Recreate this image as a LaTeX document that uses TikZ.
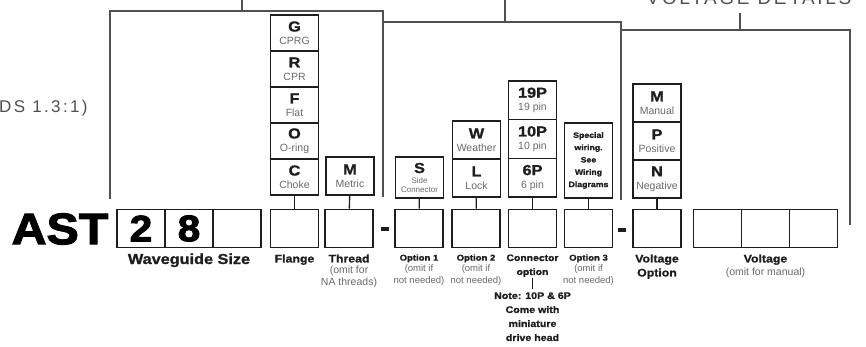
\documentclass[tikz,border=0pt]{standalone}
\usepackage{fontspec}
\setmainfont{Liberation Sans}
\newfontfamily\heavy[FakeStretch=1.12,FakeBold=1.3]{Liberation Sans}
\newfontfamily\blackface[FakeStretch=1.1,FakeBold=2.5]{Liberation Sans}
\newfontfamily\spaced[LetterSpace=14]{Liberation Sans}
\usetikzlibrary{positioning}
\definecolor{ink}{RGB}{30,30,30}
\definecolor{frame}{RGB}{80,80,80}
\definecolor{fog}{RGB}{105,105,105}
\newcommand{\optcell}[2]{{\color{ink}\heavy\bfseries\fontsize{14.5}{13}\selectfont #1}\\#2}
\tikzset{
  slot/.style={draw=ink,line width=1.6pt,minimum width=48pt,minimum height=38pt,inner sep=0pt,
    font=\blackface\bfseries\fontsize{37}{37}\selectfont},
  cell/.style={draw=ink,line width=1.4pt,minimum width=48pt,minimum height=#1,inner sep=0pt,
    align=center,text=fog,font=\fontsize{10.5}{13}\selectfont},
  cell/.default=38pt,
  link/.style={draw=ink,line width=1.4pt},
  bracket/.style={draw=frame,line width=2pt},
  slotname/.style={font=\heavy\bfseries\fontsize{#1}{14}\selectfont,text=ink,align=center,inner sep=0pt},
  slotname/.default=11,
  slotnote/.style={font=\fontsize{#1}{11.5}\selectfont,text=fog,align=center,inner sep=0pt},
  slotnote/.default=9.5,
  hyphen/.style={fill=ink,minimum width=8pt,minimum height=4pt,inner sep=0pt},
}

\begin{document}
\begin{tikzpicture}[x=1pt,y=-1pt]
  \useasboundingbox (0,0) rectangle (866,347);
  % group brackets
  \draw[bracket] (110,199) |- (383,11) -- (383,197);
  \draw[bracket] (242,11) -- (242,-4);
  \draw[bracket] (383,22) -| (621,200);
  \draw[bracket] (505,22) -- (505,-4);
  \draw[bracket] (621,30) -| (850,225);
  \draw[bracket] (740,30) -- (740,13);
  \node[font=\spaced\fontsize{19}{19}\selectfont,text=frame,anchor=base,inner sep=0pt] (volthead) at (749,5) {VOLTAGE DETAILS};
  \node[font=\spaced\fontsize{17}{17}\selectfont,text=frame,anchor=base west,inner sep=0pt] (ratio) at (-1,113) {DS 1.3:1)};

  % part number slots
  \node[font=\blackface\bfseries\fontsize{44}{44}\selectfont,inner sep=0pt] (ast) at (60,229) {AST};
  \foreach \n/\x/\t in {w1/141/2,w2/189/8,w3/237/,fl/294.5/,th/349/,o1/419/,o2/476/,cn/532.5/,
      o3/588.5/,vo/657/,v1/717.5/,v2/765.5/,v3/813.5/}
    \node[slot] (\n) at (\x,228.5) {\t};
  \node[hyphen] (dash1) at (385,228.5) {};
  \node[hyphen] (dash2) at (622,230) {};

  % option stacks, bottom cell first
  \foreach \k/\w [count=\i] in {C/Choke,O/O-ring,F/Flat,R/CPR,G/CPRG}
    \node[cell=36pt] (fl\i) at (294.5,{195-36*(\i-0.5)}) {\optcell{\k}{\w}};
  \node[cell] (th1) at (350,176) {\optcell{M}{Metric}};
  \node[cell=41pt,font=\fontsize{8}{9}\selectfont] (o11) at (419.5,177.5)
    {{\color{ink}\heavy\bfseries\fontsize{14.5}{13}\selectfont S}\\[1pt]Side\\Connector};
  \foreach \k/\w [count=\i] in {L/Lock,W/Weather}
    \node[cell] (o2\i) at (476.5,{197-38*(\i-0.5)}) {\optcell{\k}{\w}};
  \foreach \k/\w [count=\i] in {6P/6 pin,10P/10 pin,19P/19 pin}
    \node[cell=38.7pt] (cn\i) at (532.5,{197-38.7*(\i-0.5)}) {\optcell{\k}{\w}};
  \node[cell=75pt,text=ink,font=\heavy\bfseries\fontsize{7.8}{12.3}\selectfont] (o31) at (588.5,160.5)
    {Special\\wiring.\\See\\Wiring\\Diagrams};
  \foreach \k/\w [count=\i] in {N/Negative,P/Positive,M/Manual}
    \node[cell] (vo\i) at (657,{198-38*(\i-0.5)}) {\optcell{\k}{\w}};
  \foreach \s in {fl,th,o1,o2,cn,o3,vo}
    \draw[link] (\s1) -- (\s);

  % captions
  \node[slotname=14.5,below=5pt of w2] (wgcap) {Waveguide Size};
  \node[slotname,below=6pt of fl] (flcap) {Flange};
  \node[slotname,below=6pt of th] (thcap) {Thread};
  \node[slotnote=10.5,below=3pt of thcap] (thnote) {(omit for\\NA threads)};
  \foreach \s/\t in {o1/Option 1,o2/Option 2,o3/Option 3} {
    \node[slotname=8.5,below=6pt of \s] (cap\s) {\t};
    \node[slotnote,below=2pt of cap\s] (note\s) {(omit if\\not needed)};
  }
  \node[slotname=9.3,below=6pt of cn] (cncap) {Connector\\option};
  \node[slotname=9.5,below=15pt of cncap] (cnnote) {Note: 10P \& 6P\\Come with\\miniature\\drive head};
  \draw[link,shorten <=1pt,shorten >=3pt] (cncap) -- (cnnote);
  \node[slotname,below=6pt of vo] (vocap) {Voltage\\Option};
  \node[slotname,below=6pt of v2] (vcap) {Voltage};
  \node[slotnote=10.5,below=3pt of vcap] (vnote) {(omit for manual)};
\end{tikzpicture}
\end{document}
